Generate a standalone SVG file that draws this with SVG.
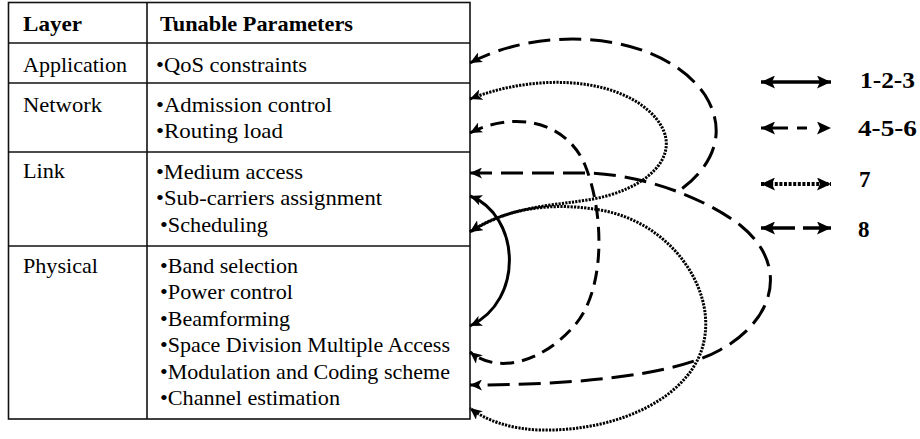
<svg xmlns="http://www.w3.org/2000/svg" width="920" height="439" viewBox="0 0 920 439">
<style>
.t{font-family:"Liberation Serif","Times New Roman",serif;font-size:22px;fill:#000}
.b{font-weight:bold}
.lg{font-family:"Liberation Serif","Times New Roman",serif;font-size:23px;font-weight:bold;fill:#000}
.grid{stroke:#111;stroke-width:1.6;fill:none}
.c{fill:none;stroke:#000;stroke-width:3;marker-start:url(#ah);marker-end:url(#ah)}
.solid{}
.dash{stroke-dasharray:14 8}
.dot{stroke-width:3;stroke-dasharray:2.2 1.2}
.long{stroke-dasharray:22 9}
.lgl{fill:none;stroke:#000;stroke-width:3.5;marker-start:url(#lh);marker-end:url(#lh)}
</style>
<defs>
<marker id="ah" viewBox="0 0 12 11" refX="12" refY="5.5" markerWidth="12" markerHeight="11" markerUnits="userSpaceOnUse" orient="auto-start-reverse">
<path d="M0,0 L12,5.5 L0,11 L3,5.5 Z" fill="#000"/>
</marker>
<marker id="lh" viewBox="0 0 14 13" refX="14" refY="6.5" markerWidth="14" markerHeight="13" markerUnits="userSpaceOnUse" orient="auto-start-reverse">
<path d="M0,0 L14,6.5 L0,13 L3,6.5 Z" fill="#000"/>
</marker>
</defs>

<g id="table">
<rect class="grid" x="8.5" y="2.5" width="461.5" height="416.5"/>
<line class="grid" x1="147" y1="2.5" x2="147" y2="419"/>
<line class="grid" x1="8.5" y1="43" x2="470" y2="43"/>
<line class="grid" x1="8.5" y1="83" x2="470" y2="83"/>
<line class="grid" x1="8.5" y1="152" x2="470" y2="152"/>
<line class="grid" x1="8.5" y1="246" x2="470" y2="246"/>
</g>

<g id="header">
<text class="t b" x="23" y="31" textLength="59" lengthAdjust="spacingAndGlyphs">Layer</text>
<text class="t b" x="160" y="31" textLength="193" lengthAdjust="spacingAndGlyphs">Tunable Parameters</text>
</g>

<g id="application">
<text class="t" x="23" y="72" textLength="104" lengthAdjust="spacingAndGlyphs">Application</text>
<text class="t" x="156" y="72" textLength="151" lengthAdjust="spacingAndGlyphs">•QoS  constraints</text>
</g>

<g id="network">
<text class="t" x="23" y="112" textLength="79" lengthAdjust="spacingAndGlyphs">Network</text>
<text class="t" x="156" y="112" textLength="176" lengthAdjust="spacingAndGlyphs">•Admission control</text>
<text class="t" x="156" y="138" textLength="127" lengthAdjust="spacingAndGlyphs">•Routing load</text>
</g>

<g id="link">
<text class="t" x="23" y="178" textLength="42" lengthAdjust="spacingAndGlyphs">Link</text>
<text class="t" x="156" y="179" textLength="147" lengthAdjust="spacingAndGlyphs">•Medium access</text>
<text class="t" x="156" y="205" textLength="226" lengthAdjust="spacingAndGlyphs">•Sub-carriers assignment</text>
<text class="t" x="160" y="232" textLength="108" lengthAdjust="spacingAndGlyphs">•Scheduling</text>
</g>

<g id="physical">
<text class="t" x="23" y="273" textLength="75" lengthAdjust="spacingAndGlyphs">Physical</text>
<text class="t" x="160" y="273" textLength="138" lengthAdjust="spacingAndGlyphs">•Band selection</text>
<text class="t" x="160" y="299" textLength="133" lengthAdjust="spacingAndGlyphs">•Power control</text>
<text class="t" x="160" y="326" textLength="130" lengthAdjust="spacingAndGlyphs">•Beamforming</text>
<text class="t" x="160" y="352" textLength="290" lengthAdjust="spacingAndGlyphs">•Space Division Multiple Access</text>
<text class="t" x="160" y="379" textLength="290" lengthAdjust="spacingAndGlyphs">•Modulation and Coding scheme</text>
<text class="t" x="160" y="405" textLength="180" lengthAdjust="spacingAndGlyphs">•Channel estimation</text>
</g>

<g id="connectors">
<path class="c solid" d="M470,196 C520,215 525,300 470,326"/>
<path class="c dash" d="M470,133 C510,112 565,118 585,165 C605,215 605,290 575,325 C545,360 500,376 470,352"/>
<path class="c dot" d="M470,99 C530,75 610,75 650,112 C685,145 660,180 610,195 C570,207 520,200 470,232"/>
<path class="c dot" d="M470,232 C510,205 560,203 600,210 C670,222 712,285 705,335 C698,395 620,432 540,430 C510,429 485,420 470,408"/>
<path class="c long" d="M470,173 L590,173 C640,175 700,195 740,225 C790,265 775,320 720,350 C670,378 560,385 470,385"/>
<path class="c long" style="marker-end:none" d="M470,63 C540,25 660,30 705,95 C730,135 710,170 676,193"/>
</g>

<g id="legend">
<path class="lgl" d="M761,82 L831,82"/>
<text class="lg" x="860" y="88" textLength="55" lengthAdjust="spacingAndGlyphs">1-2-3</text>
<path class="lgl" style="stroke-width:3.2" stroke-dasharray="27 9 10 40" d="M761,128 L831,128"/>
<text class="lg" x="858" y="136" textLength="59" lengthAdjust="spacingAndGlyphs">4-5-6</text>
<path class="lgl" style="stroke-width:3.8" stroke-dasharray="3 1.6" d="M761,184 L831,184"/>
<text class="lg" x="859" y="187">7</text>
<path class="lgl" style="stroke-width:3.5" stroke-dasharray="34 8 100" d="M761,228 L831,228"/>
<text class="lg" x="858" y="237">8</text>
</g>
</svg>
